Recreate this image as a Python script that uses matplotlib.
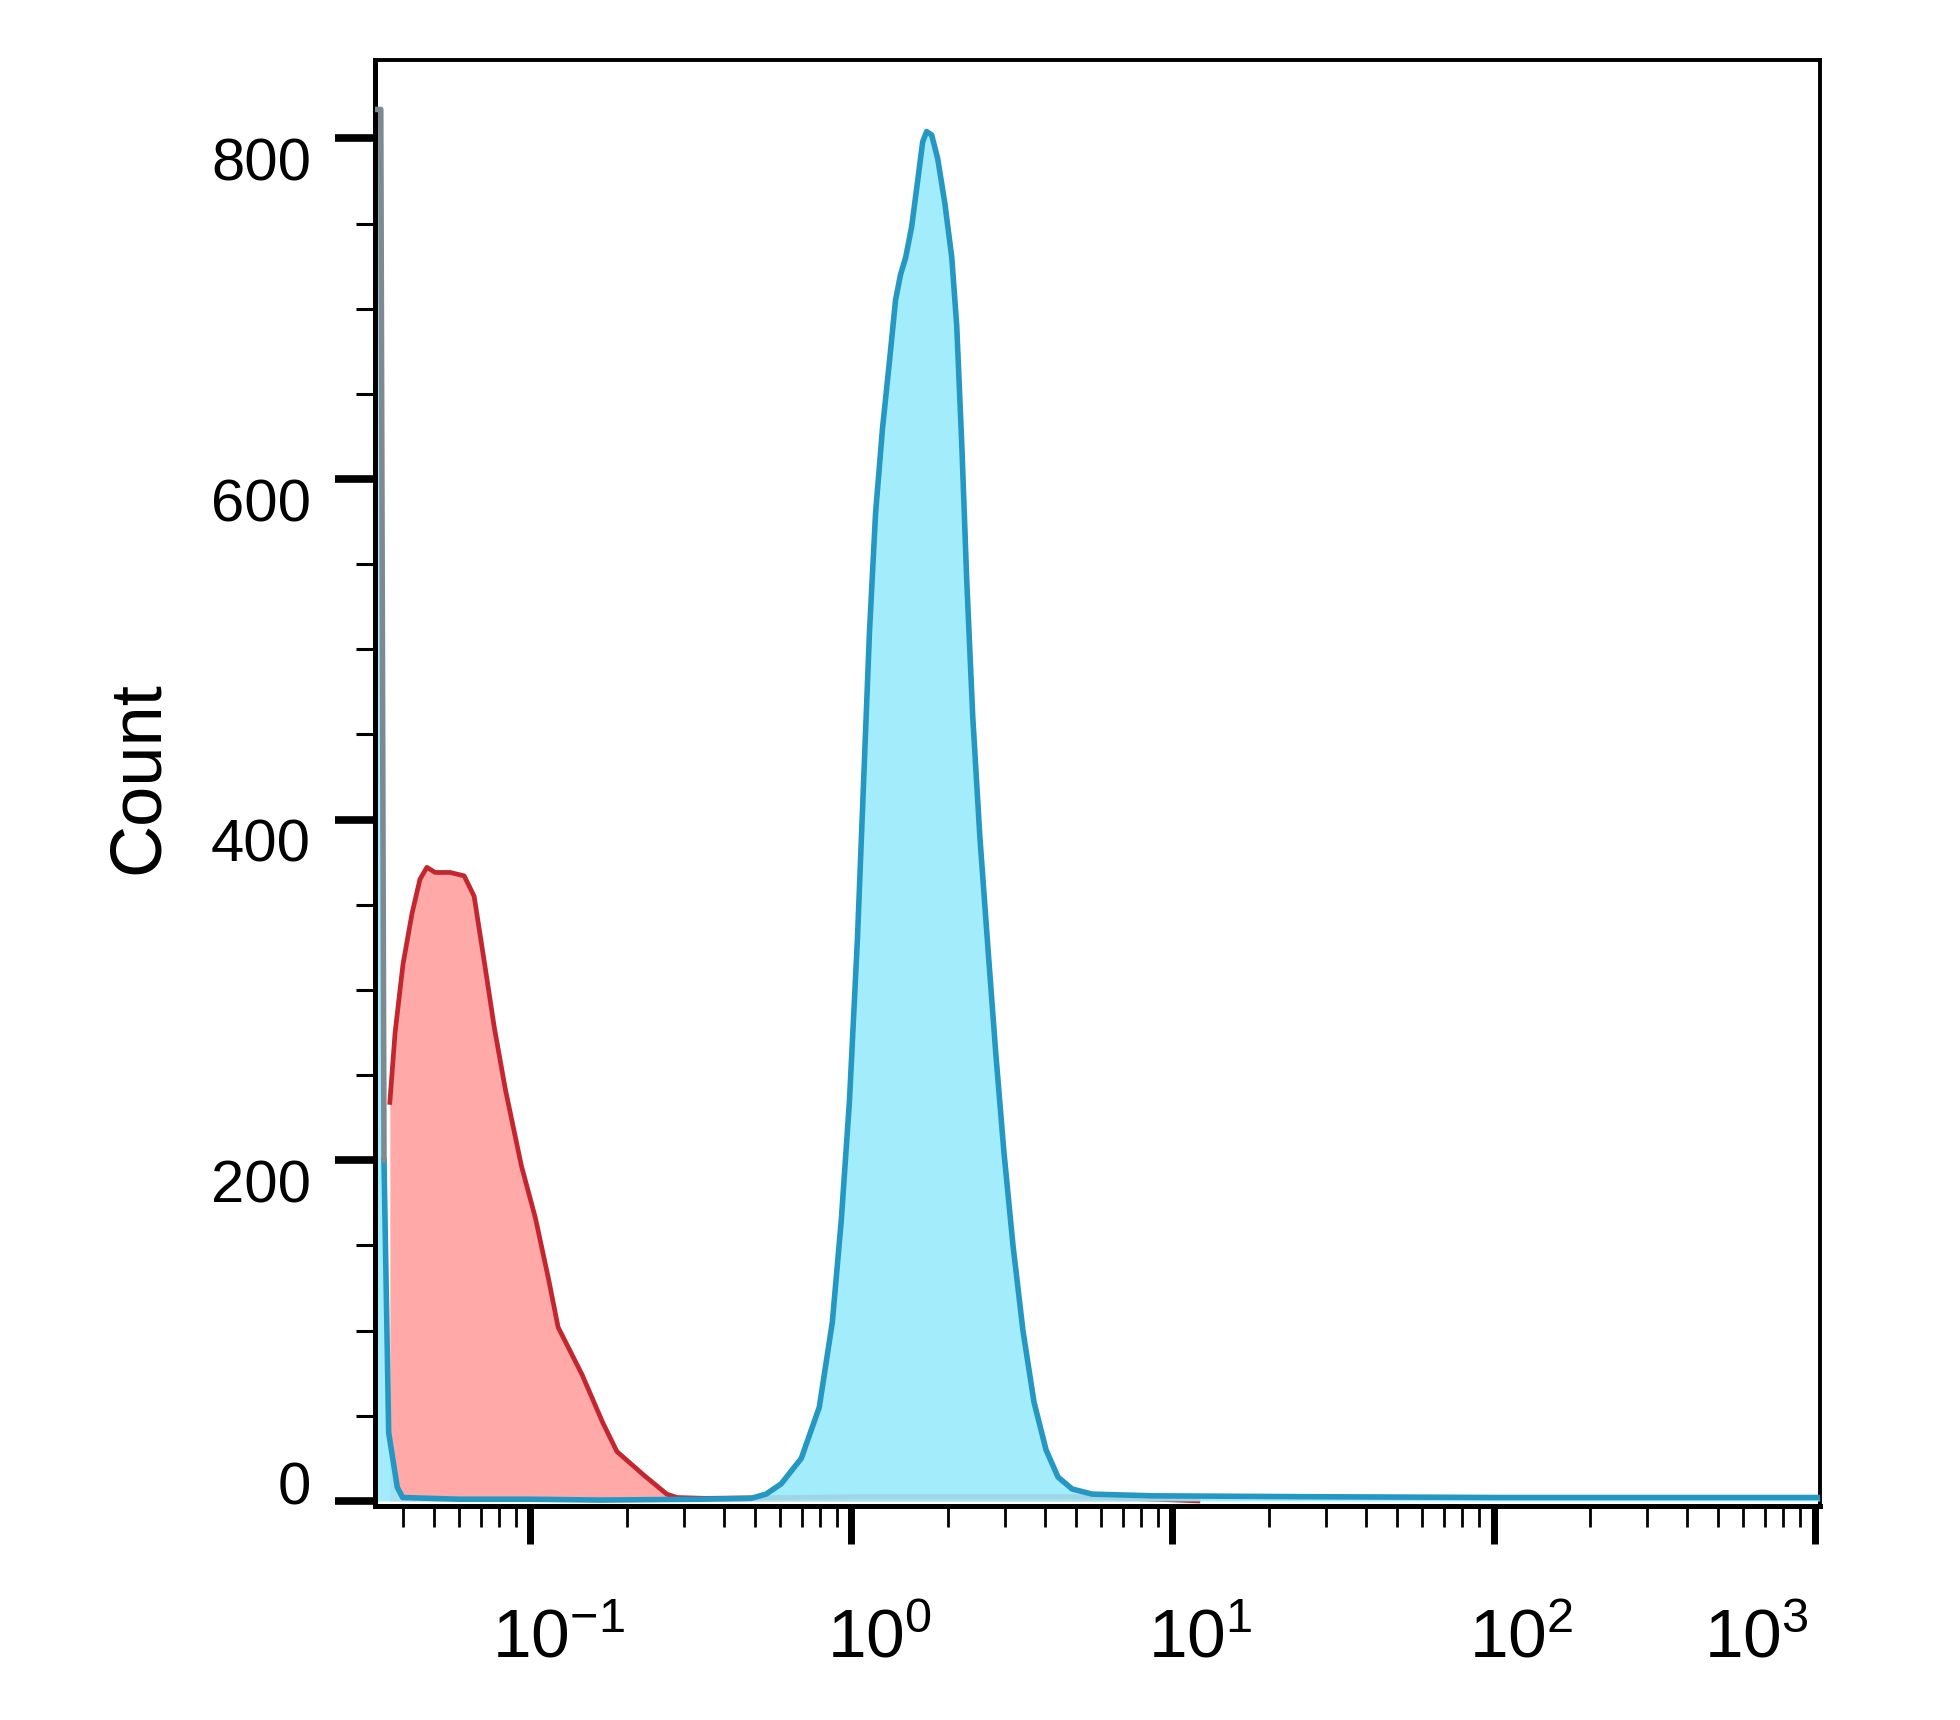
import matplotlib
matplotlib.use('Agg')
import matplotlib.pyplot as plt
import matplotlib.transforms as mtransforms
import numpy as np

# isotype control (red) histogram: fluorescence intensity vs count
red_x = [0.0365, 0.0379, 0.0401, 0.0428, 0.0453, 0.0476, 0.0505, 0.0562, 0.0622,
         0.0668, 0.0718, 0.0772, 0.0835, 0.0937, 0.1037, 0.114, 0.122, 0.133,
         0.145, 0.168, 0.186, 0.226, 0.266, 0.286, 0.35, 1.0, 5.0, 9.0, 12.0]
red_y = [234, 275, 315, 345, 365, 372, 369, 369, 367,
         355, 317, 278, 242, 197, 166, 130, 102, 88,
         74, 46, 29, 15, 4, 2, 1.5, 2.5, 2.5, 1, 0]

# stained sample (blue) histogram, with the pile-up spike at the lowest channel
blue_x = [0.0334, 0.0342, 0.0350, 0.0362, 0.0385, 0.040, 0.06, 0.1, 0.1655, 0.340, 0.487,
          0.542, 0.604, 0.698, 0.794, 0.872, 0.930, 0.986, 1.044, 1.090, 1.138,
          1.189, 1.250, 1.315, 1.372, 1.422, 1.475, 1.540, 1.608, 1.667, 1.715,
          1.778, 1.857, 1.954, 2.054, 2.128, 2.207, 2.287, 2.388, 2.512, 2.661,
          2.818, 2.985, 3.186, 3.422, 3.704, 4.038, 4.40, 4.87, 5.62, 8.66,
          25.5, 107, 453, 1037]
blue_y = [817, 817, 200, 40, 8, 2, 1, 1, 0.5, 1, 1.5,
          4, 10, 25, 55, 105, 165, 235, 330, 420, 510,
          580, 630, 670, 705, 720, 730, 748, 775, 798, 804,
          802, 788, 762, 730, 690, 620, 540, 460, 390, 325,
          262, 205, 150, 100, 58, 30, 14, 7, 4, 3,
          2.5, 2, 2, 2]
n_spike = 3

xticks = [0.1, 1, 10, 100, 1000]
xtick_labels = [r'$\mathregular{10^{-1}}$', r'$\mathregular{10^{0}}$', r'$\mathregular{10^{1}}$',
                r'$\mathregular{10^{2}}$', r'$\mathregular{10^{3}}$']
yticks = [0, 200, 400, 600, 800]
ytick_labels = ['0', '200', '400', '600', '800']

plt.rcParams['font.family'] = ['Liberation Sans', 'DejaVu Sans']
plt.rcParams['mathtext.fontset'] = 'custom'
plt.rcParams['mathtext.rm'] = 'Liberation Sans'

fig = plt.figure(figsize=(19.6, 17.2), dpi=100)
ax = fig.add_axes([0.1913, 0.1244, 0.7373, 0.8407])

ax.fill_between(red_x, red_y, 0, color='#ffa9a9', lw=0, zorder=2)
ax.plot(red_x, red_y, color='#c3262e', lw=3.4, zorder=3)
ax.fill_between(blue_x, blue_y, 0, color='#98eafc', alpha=0.9, lw=0, zorder=4)
ax.plot(blue_x[n_spike - 1:], blue_y[n_spike - 1:], color='#2497c2', lw=4, zorder=5)
ax.plot(blue_x[:n_spike], blue_y[:n_spike], color='#7d8a92', lw=4, zorder=5)

ax.set_xscale('log')
ax.set_xlim(0.0328, 1040)
ax.set_ylim(-3, 846)

ax.set_xticks(xticks)
ax.set_xticklabels(xtick_labels, fontsize=50)
ax.xaxis.set_minor_locator(matplotlib.ticker.LogLocator(base=10, subs=np.arange(2, 10)))
ax.xaxis.set_minor_formatter(matplotlib.ticker.NullFormatter())
ax.set_yticks(yticks)
ax.set_yticklabels(ytick_labels, fontsize=43)
ax.set_yticks(np.arange(0, 846, 50), minor=True)

ax.tick_params(axis='x', which='major', direction='out', length=27, width=5, pad=46)
ax.tick_params(axis='x', which='minor', direction='out', length=15, width=2)
ax.tick_params(axis='y', which='major', direction='out', length=29, width=5.5, pad=17)
ax.tick_params(axis='y', which='minor', direction='out', length=14, width=2.2)

for side in ['left', 'bottom']:
    ax.spines[side].set_linewidth(3.6)
for side in ['top', 'right']:
    ax.spines[side].set_linewidth(2.8)

# nudge tick labels to sit like the reference
for i, lab in enumerate(ax.get_xticklabels()):
    dx = 20 / 72 if i < len(xticks) - 1 else -4 / 72
    lab.set_transform(lab.get_transform() + mtransforms.ScaledTranslation(dx, 0, fig.dpi_scale_trans))
    if i == len(xticks) - 1:
        lab.set_horizontalalignment('right')
for i, lab in enumerate(ax.get_yticklabels()):
    dy = 13 / 72 if i == 0 else -15 / 72
    lab.set_transform(lab.get_transform() + mtransforms.ScaledTranslation(0, dy, fig.dpi_scale_trans))

ax.set_ylabel('Count', fontsize=52)
ax.yaxis.set_label_coords(-0.14, 0.504)

fig.savefig('out.png', dpi=100, facecolor='white')
